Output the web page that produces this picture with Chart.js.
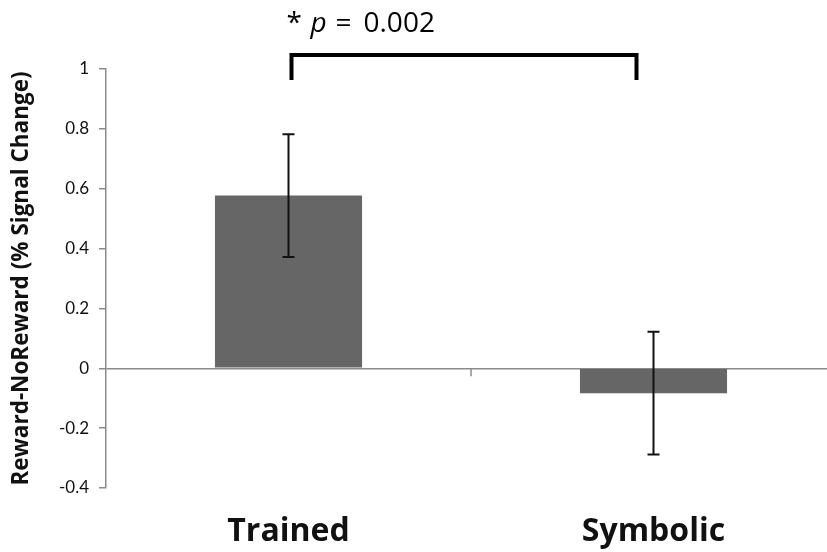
<!DOCTYPE html>
<html>
<head>
<meta charset="utf-8">
<script src="https://cdn.jsdelivr.net/npm/chart.js@4/dist/chart.umd.min.js"></script>
<style>
  html, body { margin: 0; padding: 0; background: #fff; overflow: hidden; }
  canvas { display: block; }
</style>
</head>
<body>
<canvas id="barChart" width="840" height="552"></canvas>
<script>
  // data
  var categories = ["Trained", "Symbolic"];
  var means = [0.577, -0.083];
  var sem = [0.205, 0.205];
  var yTicks = [-0.4, -0.2, 0, 0.2, 0.4, 0.6, 0.8, 1];
  var pText = "0.002";

  // error bars, the between-category tick and the significance bracket
  var extras = {
    id: "extras",
    afterDatasetsDraw: function (chart) {
      var ctx = chart.ctx;
      var x = chart.scales.x;
      var y = chart.scales.y;
      ctx.save();

      // little tick under the zero line between the two bars
      var mid = (x.getPixelForValue(0) + x.getPixelForValue(1)) / 2;
      var y0 = y.getPixelForValue(0);
      ctx.strokeStyle = "#8a8a8a";
      ctx.lineWidth = 1.5;
      ctx.beginPath();
      ctx.moveTo(mid, y0);
      ctx.lineTo(mid, y0 + 8);
      ctx.stroke();

      // error bars
      ctx.strokeStyle = "#111";
      ctx.lineWidth = 2;
      for (var i = 0; i < categories.length; i++) {
        var px = x.getPixelForValue(i);
        var top = y.getPixelForValue(means[i] + sem[i]);
        var bot = y.getPixelForValue(means[i] - sem[i]);
        ctx.beginPath();
        ctx.moveTo(px, top); ctx.lineTo(px, bot);
        ctx.moveTo(px - 6, top); ctx.lineTo(px + 6, top);
        ctx.moveTo(px - 6, bot); ctx.lineTo(px + 6, bot);
        ctx.stroke();
      }

      // bracket
      var bl = x.getPixelForValue(0) + 3;
      var br = x.getPixelForValue(1) - 17;
      var bTop = y.getPixelForValue(1.047);
      var bLeg = y.getPixelForValue(0.963);
      ctx.strokeStyle = "#000";
      ctx.lineWidth = 4;
      ctx.lineJoin = "miter";
      ctx.beginPath();
      ctx.moveTo(bl, bLeg);
      ctx.lineTo(bl, bTop);
      ctx.lineTo(br, bTop);
      ctx.lineTo(br, bLeg);
      ctx.stroke();

      // "* p = 0.002", spaced out like the original
      var cx = x.getPixelForValue(0);
      var ty = 32;
      ctx.fillStyle = "#000";
      ctx.textBaseline = "alphabetic";
      ctx.textAlign = "left";
      ctx.font = "28px 'Open Sans'";
      ctx.fillText("*", cx - 2, ty);
      ctx.font = "italic 28px 'Open Sans'";
      ctx.fillText("p", cx + 22, ty);
      ctx.font = "28px 'Open Sans'";
      ctx.fillText("=", cx + 47, ty);
      ctx.fillText(pText, cx + 75, ty);
      ctx.restore();
    }
  };

  var data = {
    labels: categories,
    datasets: [
      {
        data: means,
        backgroundColor: "#666666",
        borderWidth: 0,
        barPercentage: 0.403,
        categoryPercentage: 1,
      },
    ],
  };

  var options = {
    responsive: false,
    animation: false,
    layout: { padding: { top: 69, right: 4, left: 0, bottom: 0 } },
    plugins: {
      legend: { display: false },
      tooltip: { enabled: false },
    },
    scales: {
      x: {
        border: { display: false },
        grid: { display: false },
        ticks: {
          color: "#111",
          padding: 17,
          font: { family: "Open Sans", size: 32, weight: "bold" },
        },
        afterFit: function (scale) { scale.height = 64; },
      },
      y: {
        min: -0.4,
        max: 1,
        border: { display: true, color: "#8a8a8a", width: 1.5 },
        grid: {
          drawOnChartArea: true,
          drawTicks: true,
          tickLength: 7,
          tickColor: "#8a8a8a",
          lineWidth: 1.5,
          color: function (c) { return c.tick && c.tick.value === 0 ? "#8a8a8a" : "rgba(0,0,0,0)"; },
        },
        afterBuildTicks: function (scale) {
          scale.ticks = yTicks.map(function (v) { return { value: v }; });
        },
        ticks: {
          color: "#111",
          padding: 10,
          font: { family: "Lato", size: 17 },
          callback: function (v) { return String(Math.round(v * 10) / 10); },
        },
        title: {
          display: true,
          text: "Reward-NoReward (% Signal Change)",
          color: "#111",
          padding: { top: 8, bottom: 0 },
          font: { family: "Open Sans", size: 22.5, weight: "bold" },
        },
        afterFit: function (scale) { scale.width = 106; },
      },
    },
  };

  var barChart = new Chart(document.getElementById("barChart"), {
    type: "bar",
    data: data,
    options: options,
    plugins: [extras],
  });
</script>
</body>
</html>
